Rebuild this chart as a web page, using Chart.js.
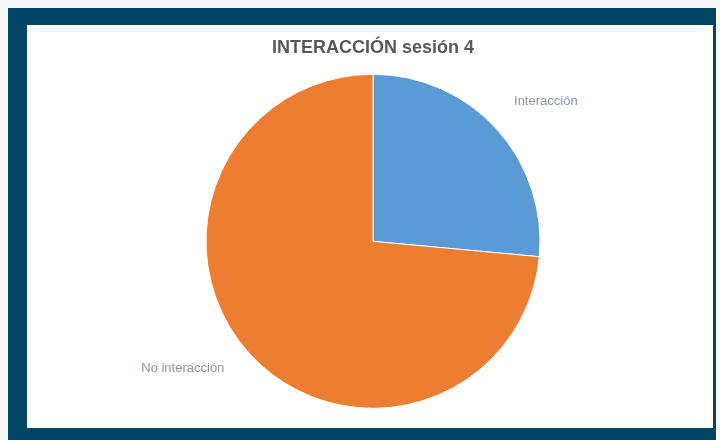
<!DOCTYPE html>
<html>
<head>
<meta charset="utf-8">
<script src="https://cdn.jsdelivr.net/npm/chart.js@4"></script>
<style>
  html, body { margin: 0; padding: 0; background: #f7f7f7; }
  .frame {
    position: absolute; left: 8px; top: 8px;
    width: 686px; height: 403px;
    border-style: solid; border-color: #004563;
    border-width: 17px 3px 12px 19px;
    background: #fff;
  }
  .frame canvas { display: block; }
</style>
</head>
<body>
<div class="frame"><canvas id="pie" width="686" height="403"></canvas></div>
<script>
const categories = ['Interacción', 'No interacción'];
const values = [9, 25];
const colors = ['#5b9bd5', '#ed7d31'];

// labels outside the slices, placed along each slice's middle angle
const outsideLabels = {
  id: 'outsideLabels',
  afterDatasetsDraw(chart, args, opts) {
    const ctx = chart.ctx;
    const meta = chart.getDatasetMeta(0);
    ctx.save();
    ctx.font = '13px "Liberation Sans", Arial, sans-serif';
    ctx.fillStyle = opts.color;
    ctx.textAlign = 'center';
    ctx.textBaseline = 'middle';
    meta.data.forEach((arc, i) => {
      const p = arc.getProps(['x', 'y', 'startAngle', 'endAngle', 'outerRadius'], true);
      const mid = (p.startAngle + p.endAngle) / 2 + opts.angleShift[i];
      const r = p.outerRadius * opts.distance[i];
      ctx.fillText(chart.data.labels[i], p.x + Math.cos(mid) * r, p.y + Math.sin(mid) * r);
    });
    ctx.restore();
  }
};

new Chart(document.getElementById('pie'), {
  type: 'pie',
  data: {
    labels: categories,
    datasets: [{
      data: values,
      backgroundColor: colors,
      borderColor: '#ffffff',
      borderWidth: 1,
      radius: 167
    }]
  },
  options: {
    responsive: false,
    animation: false,
    layout: { padding: { left: 6, right: 0, top: 0, bottom: 14 } },
    plugins: {
      legend: { display: false },
      tooltip: { enabled: false },
      title: {
        display: true,
        text: 'INTERACCIÓN sesión 4',
        color: '#595959',
        font: { family: '"Liberation Sans", Arial, sans-serif', size: 18, weight: 'bold' },
        padding: { top: 12, bottom: 10 }
      },
      outsideLabels: {
        color: '#8496b0',
        distance: [1.33, 1.37],
        angleShift: [0.06, 0.15]
      }
    }
  },
  plugins: [outsideLabels]
});
</script>
</body>
</html>
